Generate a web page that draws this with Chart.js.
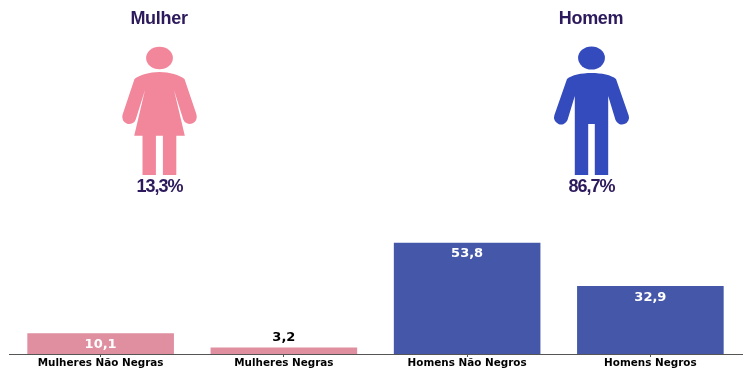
<!DOCTYPE html>
<html><head><meta charset="utf-8">
<style>html,body{margin:0;padding:0;background:#fff}#w{position:relative;width:751px;height:381px}</style>
<script src="https://cdn.jsdelivr.net/npm/chart.js@4"></script>
</head><body><div id="w"><canvas id="c" width="751" height="381"></canvas></div>
<script>
const categories = ["Mulheres Não Negras","Mulheres Negras","Homens Não Negros","Homens Negros"];
const values = [10.1,3.2,53.8,32.9];
const valueLabels = ["10,1","3,2","53,8","32,9"];
const barColors = ["#df8fa0","#df8fa0","#4457a8","#4457a8"];
const groupTitles = ["Mulher","Homem"];
const groupShares = ["13,3%","86,7%"];
const groupColors = ["#f2879c","#344bbd"];

const inkColor = "#2d1a5c";

function drawWoman(ctx,cx,color){
  ctx.save();ctx.translate(cx,0);ctx.fillStyle=color;
  ctx.beginPath();ctx.ellipse(0,58,13.4,11.3,0,0,Math.PI*2);ctx.fill();
  ctx.beginPath();
  ctx.moveTo(0,72);
  ctx.bezierCurveTo(10,72,20,75,25,79);
  ctx.lineTo(37,114.5);
  ctx.arc(30.3,117,7,-0.35,Math.PI*0.9);
  ctx.lineTo(14.5,90);
  ctx.lineTo(25.3,135.7);ctx.lineTo(-25.3,135.7);ctx.lineTo(-14.5,90);
  ctx.lineTo(-23.6,119);
  ctx.arc(-30.3,117,7,Math.PI*0.1,Math.PI+0.35);
  ctx.lineTo(-25,79);
  ctx.bezierCurveTo(-20,75,-10,72,0,72);
  ctx.closePath();ctx.fill();
  ctx.fillRect(-17,135,13.4,40);ctx.fillRect(3.4,135,13.4,40);
  ctx.restore();
}
function drawMan(ctx,cx,color){
  ctx.save();ctx.translate(cx,0);ctx.fillStyle=color;
  ctx.beginPath();ctx.ellipse(0,58,13.4,11.5,0,0,Math.PI*2);ctx.fill();
  ctx.beginPath();
  ctx.moveTo(0,73);
  ctx.bezierCurveTo(10,73,20,75,24.5,79);
  ctx.lineTo(37,115);
  ctx.arc(30.5,117.5,7,-0.35,Math.PI*0.88);
  ctx.lineTo(16.7,96);
  ctx.lineTo(16.7,175);ctx.lineTo(3.3,175);ctx.lineTo(3.3,124);ctx.lineTo(-3.3,124);ctx.lineTo(-3.3,175);ctx.lineTo(-16.7,175);ctx.lineTo(-16.7,96);
  ctx.lineTo(-24,120);
  ctx.arc(-30.5,117.5,7,Math.PI*0.12,Math.PI+0.35);
  ctx.lineTo(-24.5,79);
  ctx.bezierCurveTo(-20,75,-10,73,0,73);
  ctx.closePath();ctx.fill();
  ctx.restore();
}

const overlay = {
  id:"overlay",
  afterDatasetsDraw(chart){
    const ctx = chart.ctx, meta = chart.getDatasetMeta(0);
    ctx.save();
    ctx.textAlign="center";ctx.textBaseline="alphabetic";
    meta.data.forEach((bar,i)=>{
      const inside = (bar.base-bar.y)>15;
      ctx.font="bold 13px 'DejaVu Sans'";
      ctx.fillStyle = inside ? "#ffffff" : "#000000";
      ctx.fillText(valueLabels[i],bar.x,inside ? bar.y+14.5 : bar.y-6);
    });
    const centers=[159.5,591.5];
    drawWoman(ctx,centers[0],groupColors[0]);
    drawMan(ctx,centers[1],groupColors[1]);
    ctx.fillStyle=inkColor;
    centers.forEach((cx,i)=>{
      ctx.font="bold 18px 'Liberation Sans'";ctx.letterSpacing="-0.3px";
      ctx.fillText(groupTitles[i],cx-0.5,23.5);
      ctx.letterSpacing="-1px";
      ctx.fillText(groupShares[i],cx,192);
    });
    ctx.restore();
  }
};

new Chart(document.getElementById("c"),{
  type:"bar",
  data:{labels:categories,datasets:[{data:values,backgroundColor:barColors,borderWidth:0,categoryPercentage:1,barPercentage:0.8}]},
  options:{
    responsive:false,animation:false,
    layout:{padding:{left:9,right:9,top:230,bottom:0}},
    plugins:{legend:{display:false},tooltip:{enabled:false}},
    scales:{
      y:{display:false,min:0,max:60},
      x:{
        afterFit(s){s.height=27;},
        border:{display:true,color:"#555555",width:1},
        grid:{display:true,drawOnChartArea:false,drawTicks:true,tickLength:3,color:"#555555",offset:false},
        ticks:{color:"#000000",font:{family:"'DejaVu Sans'",weight:"bold",size:10.4},maxRotation:0,autoSkip:false,padding:0}
      }
    }
  },
  plugins:[overlay]
});
</script></body></html>
